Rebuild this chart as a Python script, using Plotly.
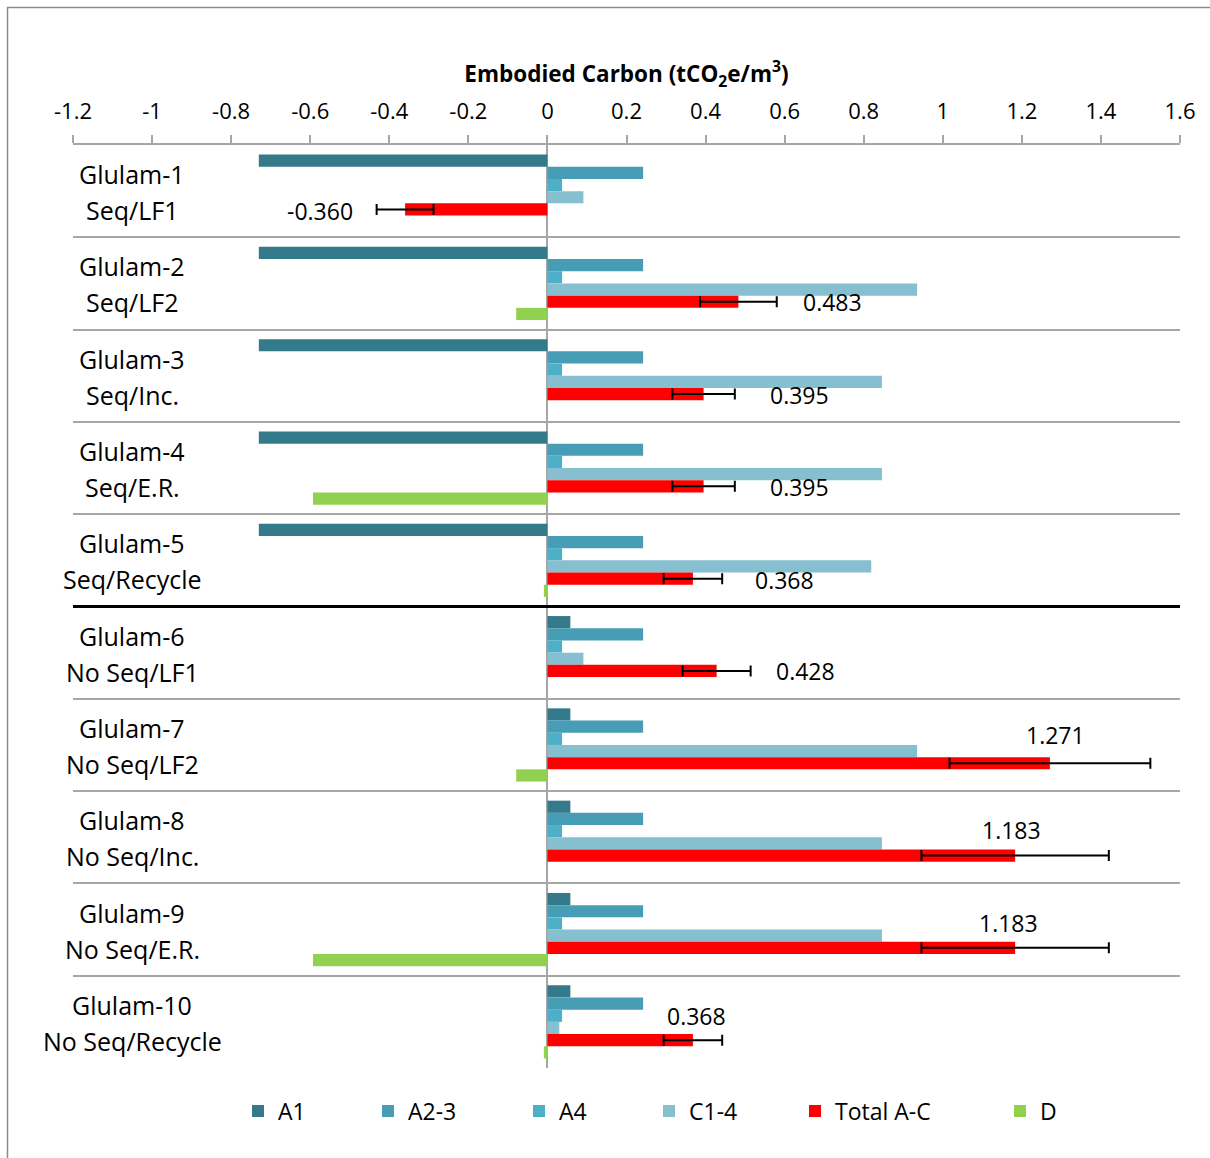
import plotly.graph_objects as go

# ---- data -------------------------------------------------------------
names = ["Glulam-1", "Glulam-2", "Glulam-3", "Glulam-4", "Glulam-5",
         "Glulam-6", "Glulam-7", "Glulam-8", "Glulam-9", "Glulam-10"]
scenarios = ["Seq/LF1", "Seq/LF2", "Seq/Inc.", "Seq/E.R.", "Seq/Recycle",
             "No Seq/LF1", "No Seq/LF2", "No Seq/Inc.", "No Seq/E.R.", "No Seq/Recycle"]

a1 = [-0.730, -0.730, -0.730, -0.730, -0.730, 0.058, 0.058, 0.058, 0.058, 0.058]
a23 = [0.242, 0.242, 0.242, 0.242, 0.242, 0.242, 0.242, 0.242, 0.242, 0.242]
a4 = [0.037, 0.037, 0.037, 0.037, 0.037, 0.037, 0.037, 0.037, 0.037, 0.037]
c14 = [0.091, 0.935, 0.846, 0.846, 0.819, 0.091, 0.935, 0.846, 0.846, 0.030]
total = [-0.360, 0.483, 0.395, 0.395, 0.368, 0.428, 1.271, 1.183, 1.183, 0.368]
total_err = [0.072, 0.097, 0.079, 0.079, 0.074, 0.086, 0.254, 0.237, 0.237, 0.074]
d = [0.0, -0.079, 0.0, -0.593, -0.009, 0.0, -0.079, 0.0, -0.593, -0.009]

x_tickvals = [-1.2, -1.0, -0.8, -0.6, -0.4, -0.2, 0.0, 0.2, 0.4, 0.6, 0.8, 1.0, 1.2, 1.4, 1.6]
x_ticktext = ["-1.2", "-1", "-0.8", "-0.6", "-0.4", "-0.2", "0", "0.2", "0.4",
              "0.6", "0.8", "1", "1.2", "1.4", "1.6"]

series = [
    ("A1", a1, "#347A8B"),
    ("A2-3", a23, "#469DB5"),
    ("A4", a4, "#4DB0C8"),
    ("C1-4", c14, "#85BFD0"),
    ("Total A-C", total, "#FF0000"),
    ("D", d, "#92D050"),
]

# ---- styling / geometry ----------------------------------------------
W, H = 1210, 1158
ML, MR, MT, MB = 73, 30, 145, 90
PW, PH = W - ML - MR, H - MT - MB
FONT = "'Open Sans', Lato, sans-serif"
GRID = "#A6A6A6"

# square position (px) of each legend entry
legend_px = [252, 382, 533, 663, 809, 1014]
legend_py = 1111
# pixel offsets of the total value labels
label_dx = [-85, 94, 96, 96, 92, 89, 6, -4, -7, 4]
label_dy = [-19.5, -19, -19.5, -19, -20, -18.5, 10, 7, 7, 6]

fig = go.Figure()

for i, (label, vals, color) in enumerate(series):
    kw = {}
    if label == "Total A-C":
        kw["error_x"] = dict(type="data", array=total_err, visible=True,
                             color="black", thickness=2, width=5.5)
    fig.add_trace(go.Bar(
        name=label, y=names, x=vals, orientation="h",
        marker=dict(color=color, line=dict(width=0)),
        legend="legend" if i == 0 else f"legend{i + 1}",
        showlegend=True,
        **kw,
    ))

# category labels (two lines each)
annotations = []
label_x = (132 - ML) / PW
for n, s in zip(names, scenarios):
    annotations.append(dict(x=label_x, xref="paper", y=n, yref="y", text=n,
                            showarrow=False, xanchor="center", yanchor="middle",
                            yshift=17, font=dict(family=FONT, size=25, color="black")))
    annotations.append(dict(x=label_x, xref="paper", y=n, yref="y", text=s,
                            showarrow=False, xanchor="center", yanchor="middle",
                            yshift=-19, font=dict(family=FONT, size=25, color="black")))

# total value labels
for n, v, dx, dy in zip(names, total, label_dx, label_dy):
    annotations.append(dict(x=v, xref="x", y=n, yref="y", text=f"{v:.3f}",
                            showarrow=False, xanchor="center", yanchor="middle",
                            xshift=dx, yshift=dy,
                            font=dict(family=FONT, size=23, color="black")))

shapes = [
    # separator between sequestration / no sequestration cases
    dict(type="line", xref="paper", x0=0, x1=1, yref="y", y0=4.5, y1=4.5,
         line=dict(color="black", width=3)),
    # chart frame
    dict(type="rect", xref="paper", yref="paper",
         x0=(7.5 - ML) / PW, x1=(W + 10 - ML) / PW,
         y0=(H - MB - (H + 10)) / PH, y1=(H - MB - 7.5) / PH,
         line=dict(color="#8C8C8C", width=1.5), fillcolor="rgba(0,0,0,0)"),
]

layout_legends = {}
for i, px in enumerate(legend_px):
    key = "legend" if i == 0 else f"legend{i + 1}"
    layout_legends[key] = dict(
        xref="container", yref="container",
        x=(px - 14) / W, y=1 - legend_py / H,
        xanchor="left", yanchor="middle",
        bgcolor="rgba(0,0,0,0)", borderwidth=0,
        font=dict(family=FONT, size=23, color="black"),
        orientation="h",
    )

fig.update_layout(
    width=W, height=H,
    margin=dict(l=ML, r=MR, t=MT, b=MB, autoexpand=False),
    paper_bgcolor="white", plot_bgcolor="white",
    showlegend=True,
    barmode="group", bargap=0.207, bargroupgap=0,
    font=dict(family=FONT, color="black"),
    title=dict(text="<b>Embodied Carbon (tCO<sub>2</sub>e/m<sup>3</sup>)</b>",
               x=0.5, xref="paper", y=1 - 74 / H, yref="container",
               xanchor="center", yanchor="middle",
               font=dict(family=FONT, size=22.5, color="black")),
    xaxis=dict(side="top", range=[-1.2, 1.6], tickmode="array",
               tickvals=x_tickvals, ticktext=x_ticktext,
               tickfont=dict(family=FONT, size=22, color="black"),
               ticks="outside", ticklen=8, tickwidth=1.5, tickcolor=GRID,
               ticklabelstandoff=7,
               showline=True, linecolor=GRID, linewidth=2,
               showgrid=False, zeroline=True, zerolinecolor=GRID,
               zerolinewidth=1.5, automargin=False),
    yaxis=dict(type="category", categoryorder="array", categoryarray=names,
               range=[9.5, -0.5], tickson="boundaries", showgrid=True,
               gridcolor=GRID, gridwidth=2, showticklabels=False, ticks="",
               zeroline=False, showline=False, automargin=False),
    annotations=annotations,
    shapes=shapes,
    **layout_legends,
)

fig.write_html("out.html")
